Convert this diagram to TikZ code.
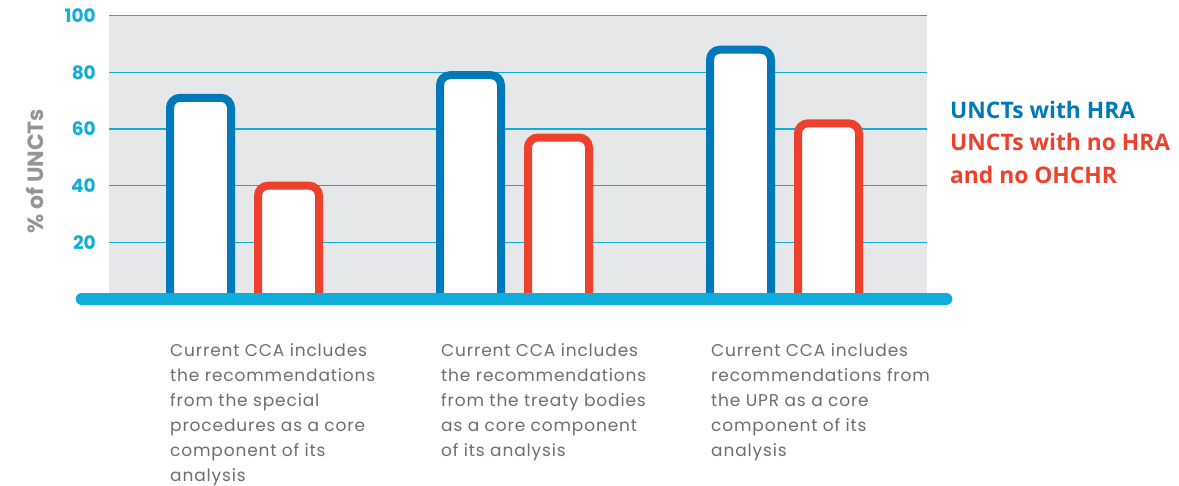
\documentclass[tikz,border=0pt]{standalone}
\usepackage{fontspec}
\setmainfont{Poppins}
\newfontfamily\keyfont{Open Sans}
\usetikzlibrary{positioning}

\definecolor{hrablue}{HTML}{0079BB}
\definecolor{nohrared}{HTML}{EE412D}
\definecolor{axiscyan}{HTML}{0FADDA}
\definecolor{panelgrey}{HTML}{E6E7E8}
\definecolor{captiongrey}{HTML}{6D6E71}
\definecolor{titlegrey}{HTML}{939598}

\begin{document}
\begin{tikzpicture}[x=1pt,y=-1pt,
  bar/.style={fill=white,line width=8pt,rounded corners=10pt},
  tick/.style={anchor=east,inner sep=0pt,text=axiscyan,font=\bfseries\fontsize{18.5}{20}\selectfont},
  caption/.style={anchor=base west,align=left,inner sep=0pt,text=captiongrey,font=\fontsize{17}{25}\selectfont\addfontfeature{LetterSpace=5}},
  key/.style={anchor=base west,align=left,inner sep=0pt,font=\keyfont\bfseries\fontsize{22.8}{32.7}\selectfont}]
\useasboundingbox (0,0) rectangle (1179,486);
% panel and grid
\fill[panelgrey] (109,15.7) rectangle (927,299);
\foreach \v in {20,40,60,80,100}{
  \draw[axiscyan,line width=1.5pt] (109,{299-2.833*\v}) -- (927,{299-2.833*\v});
  \node[tick] (tick\v) at (96,{299-2.833*\v}) {\v};
}
\node[rotate=90,inner sep=0pt,text=titlegrey,font=\bfseries\fontsize{22}{24}\selectfont] (ytitle) at (35,171) {\% of UNCTs};
% bars: group start, with HRA, no HRA
\foreach \x/\hra/\nohra in {170/71/40,440/79/57,710/88/62}{
  \filldraw[bar,draw=hrablue] (\x,299) |- ({\x+30},{299-2.833*\hra}) -| ({\x+61},299);
  \filldraw[bar,draw=nohrared] ({\x+88},299) |- ({\x+118},{299-2.833*\nohra}) -| ({\x+149},299);
}
% axis
\draw[axiscyan,line width=12.7pt,line cap=round] (82,299) -- (946,299);
% captions (anchored at the last baseline)
\node[caption] (capsp) at (170,481.7) {Current CCA includes\\the recommendations\\from the special\\procedures as a core\\component of its\\analysis};
\node[caption] (captb) at (441,456.7) {Current CCA includes\\the recommendations\\from the treaty bodies\\as a core component\\of its analysis};
\node[caption] (capupr) at (711,456.7) {Current CCA includes\\recommendations from\\the UPR as a core\\component of its\\analysis};
% legend
\node[key,text=hrablue] (keyhra) at (950,118.3) {UNCTs with HRA};
\node[key,text=nohrared] (keynohra) at (950,183.2) {UNCTs with no HRA\\and no OHCHR};
\end{tikzpicture}
\end{document}
